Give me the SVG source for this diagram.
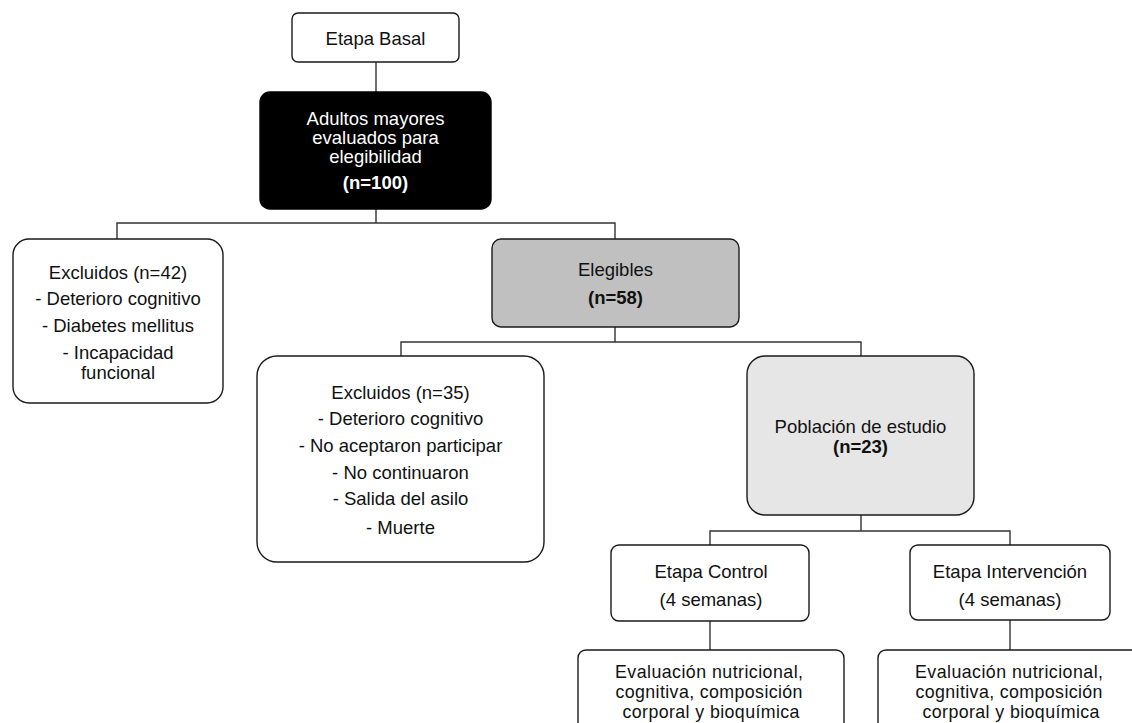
<svg xmlns="http://www.w3.org/2000/svg" width="1132" height="723" viewBox="0 0 1132 723">
<style>
text{font-family:"Liberation Sans",Arial,sans-serif;font-size:18.5px;fill:#111;text-anchor:middle}
.b{font-weight:bold}
.w{fill:#fff}
.s{font-size:17.8px}
.box{fill:#fff;stroke:#1a1a1a;stroke-width:1.4}
.conn{fill:none;stroke:#333;stroke-width:1.4}
</style>
<rect width="1132" height="723" fill="#fff"/>
<g id="connectors" class="conn">
<path d="M376 62V92"/>
<path d="M376 209V223M117 239V223H615V239"/>
<path d="M615 327V342M401 356V342H861V356"/>
<path d="M861 515V531M710 545V531H1010V545"/>
<path d="M710 621V650"/>
<path d="M1010 620V650"/>
</g>
<g id="etapa-basal">
<rect class="box" x="292" y="13" width="167" height="49" rx="6"/>
<text x="375.5" y="44.5">Etapa Basal</text>
</g>
<g id="adultos">
<rect x="260" y="92" width="231" height="117" rx="10" fill="#000" stroke="#000" stroke-width="1.4"/>
<text class="w" x="375.5" y="124.5">Adultos mayores</text>
<text class="w" x="375.5" y="144">evaluados para</text>
<text class="w" x="375.5" y="163">elegibilidad</text>
<text class="w b" x="375.5" y="189">(n=100)</text>
</g>
<g id="excluidos42">
<rect class="box" x="13" y="239" width="210" height="164" rx="16"/>
<text x="118" y="278.5">Excluidos (n=42)</text>
<text x="118" y="304.5">- Deterioro cognitivo</text>
<text x="118" y="332">- Diabetes mellitus</text>
<text x="118" y="359">- Incapacidad</text>
<text x="118" y="378.5">funcional</text>
</g>
<g id="elegibles">
<rect class="box" x="492" y="239" width="247" height="88" rx="9" style="fill:#c0c0c0"/>
<text x="615.5" y="275.5">Elegibles</text>
<text class="b" x="615.5" y="303.5">(n=58)</text>
</g>
<g id="excluidos35">
<rect class="box" x="257" y="356" width="287" height="206" rx="20"/>
<text x="400.5" y="398.5">Excluidos (n=35)</text>
<text x="400.5" y="424.5">- Deterioro cognitivo</text>
<text x="400.5" y="451.5">- No aceptaron participar</text>
<text x="400.5" y="478.5">- No continuaron</text>
<text x="400.5" y="504.5">- Salida del asilo</text>
<text x="400.5" y="533.5">- Muerte</text>
</g>
<g id="poblacion">
<rect class="box" x="747" y="356" width="227" height="159" rx="18" style="fill:#e6e6e6"/>
<text x="860.5" y="432.5">Población de estudio</text>
<text class="b" x="860.5" y="452.5">(n=23)</text>
</g>
<g id="etapa-control">
<rect class="box" x="611" y="545" width="198" height="76" rx="8"/>
<text x="711" y="578">Etapa Control</text>
<text x="711" y="605.5">(4 semanas)</text>
</g>
<g id="etapa-intervencion">
<rect class="box" x="910" y="545" width="200" height="75" rx="8"/>
<text x="1010" y="578">Etapa Intervención</text>
<text x="1010" y="605.5">(4 semanas)</text>
</g>
<g id="evaluacion-control">
<rect class="box" x="578" y="650" width="266" height="100" rx="8"/>
<text class="s" x="709" y="677.5" textLength="188">Evaluación nutricional,</text>
<text class="s" x="709" y="697.5" textLength="187">cognitiva, composición</text>
<text class="s" x="711" y="717.5" textLength="177">corporal y bioquímica</text>
</g>
<g id="evaluacion-intervencion">
<rect class="box" x="878" y="650" width="266" height="100" rx="8"/>
<text class="s" x="1009" y="677.5" textLength="188">Evaluación nutricional,</text>
<text class="s" x="1009" y="697.5" textLength="187">cognitiva, composición</text>
<text class="s" x="1011" y="717.5" textLength="177">corporal y bioquímica</text>
</g>
</svg>
